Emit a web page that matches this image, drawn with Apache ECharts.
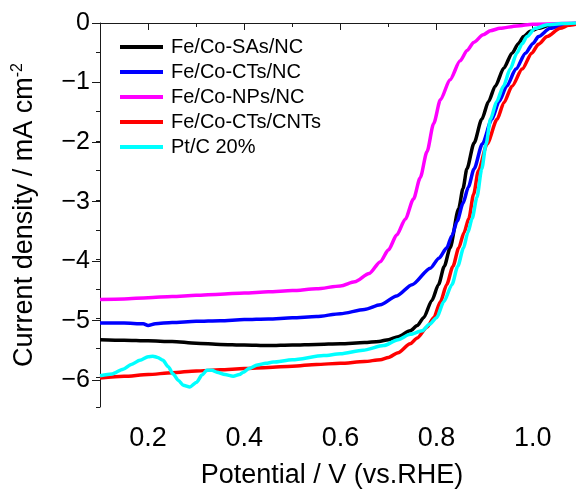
<!DOCTYPE html>
<html>
<head>
<meta charset="utf-8">
<script src="https://cdn.jsdelivr.net/npm/echarts@6/dist/echarts.min.js"></script>
<style>
  html, body { margin: 0; padding: 0; background: #fff; }
  #chart { width: 576px; height: 494px; }
</style>
</head>
<body>
<div id="chart"></div>
<script>
// LSV polarisation curves (ORR), current density vs. potential
const seriesNames = ['Fe/Co-SAs/NC', 'Fe/Co-CTs/NC', 'Fe/Co-NPs/NC', 'Fe/Co-CTs/CNTs', 'Pt/C 20%'];
const seriesColors = ['#000000', '#0000ff', '#ff00ff', '#ff0000', '#00ffff'];

const sasPotential = [0.10,0.15,0.20,0.25,0.30,0.35,0.40,0.45,0.50,0.55,0.60,0.65,0.68,0.70,0.72,0.745,0.76,0.773,0.79,0.804,0.816,0.828,0.846,0.855,0.863,0.878,0.894,0.908,0.922,0.94,0.957,0.97,0.981,0.995,1.012,1.035,1.06,1.09];
const sasCurrent = [-5.36,-5.37,-5.38,-5.39,-5.42,-5.44,-5.45,-5.46,-5.45,-5.44,-5.43,-5.41,-5.39,-5.36,-5.31,-5.21,-5.12,-4.99,-4.70,-4.43,-4.12,-3.81,-3.14,-2.80,-2.47,-2.03,-1.63,-1.33,-1.07,-0.76,-0.51,-0.35,-0.23,-0.14,-0.09,-0.04,-0.02,-0.01];

const ctsPotential = [0.10,0.15,0.19,0.20,0.215,0.25,0.30,0.35,0.40,0.45,0.50,0.55,0.60,0.65,0.683,0.717,0.749,0.787,0.805,0.821,0.832,0.843,0.855,0.866,0.878,0.895,0.915,0.93,0.946,0.965,0.985,1.0,1.012,1.036,1.065,1.09];
const ctsCurrent = [-5.08,-5.08,-5.09,-5.12,-5.09,-5.07,-5.05,-5.04,-5.02,-5.01,-4.99,-4.97,-4.92,-4.85,-4.77,-4.62,-4.43,-4.15,-3.98,-3.81,-3.60,-3.35,-3.05,-2.78,-2.47,-2.05,-1.63,-1.33,-1.07,-0.78,-0.51,-0.35,-0.23,-0.09,-0.03,-0.01];

const npsPotential = [0.10,0.15,0.20,0.25,0.30,0.35,0.40,0.45,0.50,0.55,0.60,0.63,0.66,0.683,0.70,0.717,0.735,0.752,0.766,0.78,0.794,0.808,0.828,0.849,0.864,0.877,0.897,0.912,0.932,0.967,1.0,1.09];
const npsCurrent = [-4.68,-4.67,-4.65,-4.63,-4.61,-4.59,-4.57,-4.55,-4.53,-4.50,-4.45,-4.38,-4.24,-4.04,-3.84,-3.59,-3.32,-2.98,-2.62,-2.18,-1.70,-1.30,-0.96,-0.64,-0.46,-0.33,-0.20,-0.13,-0.09,-0.05,-0.02,0];

const cntPotential = [0.10,0.15,0.20,0.25,0.30,0.35,0.40,0.45,0.50,0.55,0.60,0.65,0.683,0.70,0.72,0.745,0.76,0.78,0.794,0.808,0.821,0.834,0.846,0.857,0.867,0.877,0.887,0.905,0.926,0.94,0.957,0.978,0.998,1.012,1.03,1.057,1.075,1.09];
const cntCurrent = [-6.01,-5.98,-5.95,-5.92,-5.89,-5.87,-5.85,-5.83,-5.81,-5.78,-5.76,-5.73,-5.70,-5.66,-5.58,-5.43,-5.33,-5.15,-4.99,-4.72,-4.43,-4.12,-3.81,-3.55,-3.31,-2.90,-2.50,-2.05,-1.63,-1.35,-1.07,-0.78,-0.51,-0.36,-0.23,-0.09,-0.04,-0.02];

const ptPotential = [0.10,0.125,0.148,0.165,0.183,0.20,0.21,0.22,0.231,0.242,0.252,0.263,0.273,0.287,0.301,0.312,0.322,0.333,0.343,0.36,0.377,0.39,0.398,0.41,0.427,0.445,0.46,0.50,0.565,0.60,0.647,0.69,0.72,0.745,0.77,0.785,0.80,0.815,0.832,0.844,0.856,0.865,0.874,0.884,0.894,0.903,0.912,0.925,0.939,0.953,0.967,0.978,0.988,1.005,1.03,1.06,1.09];
const ptCurrent = [-5.97,-5.94,-5.86,-5.78,-5.71,-5.65,-5.64,-5.66,-5.71,-5.82,-5.94,-6.05,-6.13,-6.16,-6.08,-5.96,-5.88,-5.88,-5.91,-5.95,-5.98,-5.95,-5.91,-5.85,-5.79,-5.76,-5.74,-5.70,-5.63,-5.60,-5.54,-5.46,-5.36,-5.27,-5.21,-5.10,-4.99,-4.72,-4.43,-4.12,-3.81,-3.55,-3.31,-2.95,-2.47,-2.05,-1.63,-1.33,-1.07,-0.78,-0.51,-0.35,-0.23,-0.09,-0.03,-0.01,0];

// axis ranges and tick steps
const X_MIN = 0.1, X_MAX = 1.09, X_MINOR = 0.1;
const X_LABEL_MIN = 0.2, X_LABEL_MAX = 1.0, X_MAJOR = 0.2;
const Y_MIN = -6.5, Y_MAX = 0, Y_MINOR = 0.5;
const Y_LABEL_MIN = -6, Y_MAJOR = 1;

const FONT = "'Liberation Sans', Arial, sans-serif";
const AXIS_COLOR = '#1a1a1a';

// plot frame in pixels
const PLOT = { left: 100, right: 0, top: 23, bottom: 84 };
const W = 576, H = 494;
const plotW = W - PLOT.left - PLOT.right;
const plotH = H - PLOT.top - PLOT.bottom;
const xPx = v => PLOT.left + (v - X_MIN) / (X_MAX - X_MIN) * plotW;
const yPx = v => PLOT.top + (Y_MAX - v) / (Y_MAX - Y_MIN) * plotH;

const curves = [
  [sasPotential, sasCurrent],
  [ctsPotential, ctsCurrent],
  [npsPotential, npsCurrent],
  [cntPotential, cntCurrent],
  [ptPotential, ptCurrent]
];
const pairs = (xs, ys) => xs.map((x, i) => [x, ys[i]]);

const hiddenAxis = (gridIndex, min, max) => ({
  type: 'value', gridIndex, min, max,
  axisLine: { show: false }, axisTick: { show: false },
  axisLabel: { show: false }, splitLine: { show: false }
});

const chart = echarts.init(document.getElementById('chart'), null, { renderer: 'canvas' });

chart.setOption({
  animation: false,
  backgroundColor: '#ffffff',
  textStyle: { fontFamily: FONT },
  grid: [
    // main plot area (minor ticks, frame, curves)
    { left: PLOT.left, right: PLOT.right, top: PLOT.top, bottom: PLOT.bottom },
    // labelled y ticks: -6 .. 0
    { left: PLOT.left, right: PLOT.right, top: PLOT.top, bottom: H - yPx(Y_LABEL_MIN) },
    // labelled x ticks: 0.2 .. 1.0
    { left: xPx(X_LABEL_MIN), right: W - xPx(X_LABEL_MAX), top: PLOT.top, bottom: PLOT.bottom }
  ],
  legend: {
    orient: 'vertical',
    left: 120,
    top: 37,
    padding: 0,
    itemWidth: 43,
    itemHeight: 4,
    itemGap: 5,
    icon: 'rect',
    data: seriesNames,
    textStyle: { fontSize: 20, color: '#000', fontFamily: FONT, padding: [0, 0, 0, 3] }
  },
  xAxis: [
    {
      type: 'value', gridIndex: 0, min: X_MIN, max: X_MAX, interval: X_MINOR,
      name: 'Potential / V (vs.RHE)',
      nameLocation: 'middle', nameGap: 55,
      nameTextStyle: { fontSize: 27, color: '#000', fontFamily: FONT, padding: [0, 12, 0, 0] },
      axisLine: { show: true, lineStyle: { color: AXIS_COLOR, width: 1 } },
      axisTick: { show: true, inside: false, length: 4, lineStyle: { color: AXIS_COLOR } },
      axisLabel: { show: false },
      splitLine: { show: false }
    },
    {
      type: 'value', gridIndex: 0, min: X_MIN, max: X_MAX, position: 'top',
      axisLine: { show: true, lineStyle: { color: AXIS_COLOR, width: 1 } },
      axisTick: { show: false }, axisLabel: { show: false }, splitLine: { show: false }
    },
    hiddenAxis(1, X_MIN, X_MAX),
    {
      type: 'value', gridIndex: 2, min: X_LABEL_MIN, max: X_LABEL_MAX, interval: X_MAJOR,
      axisLine: { show: false },
      axisTick: { show: true, inside: false, length: 7, lineStyle: { color: AXIS_COLOR } },
      axisLabel: {
        show: true, margin: 15, fontSize: 27, color: '#000', fontFamily: FONT,
        formatter: v => v.toFixed(1)
      },
      splitLine: { show: false }
    }
  ],
  yAxis: [
    {
      type: 'value', gridIndex: 0, min: Y_MIN, max: Y_MAX, interval: Y_MINOR,
      name: 'Current density / mA cm{sup|-2}',
      nameLocation: 'middle', nameGap: 60, nameRotate: 90,
      nameTextStyle: {
        fontSize: 27, color: '#000', fontFamily: FONT, lineHeight: 30,
        rich: { sup: { fontSize: 16, lineHeight: 16, verticalAlign: 'top', color: '#000', fontFamily: FONT } }
      },
      axisLine: { show: true, lineStyle: { color: AXIS_COLOR, width: 1 } },
      axisTick: { show: true, inside: false, length: 4, lineStyle: { color: AXIS_COLOR } },
      axisLabel: { show: false },
      splitLine: { show: false }
    },
    {
      type: 'value', gridIndex: 1, min: Y_LABEL_MIN, max: Y_MAX, interval: Y_MAJOR,
      axisLine: { show: false },
      axisTick: { show: true, inside: false, length: 8, lineStyle: { color: AXIS_COLOR } },
      axisLabel: {
        show: true, margin: 10, fontSize: 25, color: '#000', fontFamily: FONT,
        formatter: v => (v === 0 ? '0' : '\u2212' + Math.abs(v))
      },
      splitLine: { show: false }
    },
    hiddenAxis(2, Y_MIN, Y_MAX)
  ],
  series: curves.map(([xs, ys], i) => ({
    name: seriesNames[i],
    type: 'line',
    xAxisIndex: 0,
    yAxisIndex: 0,
    data: pairs(xs, ys),
    showSymbol: false,
    smooth: 0.25,
    smoothMonotone: 'x',
    clip: true,
    lineStyle: { color: seriesColors[i], width: 3.5 },
    itemStyle: { color: seriesColors[i] }
  }))
});
</script>
</body>
</html>
